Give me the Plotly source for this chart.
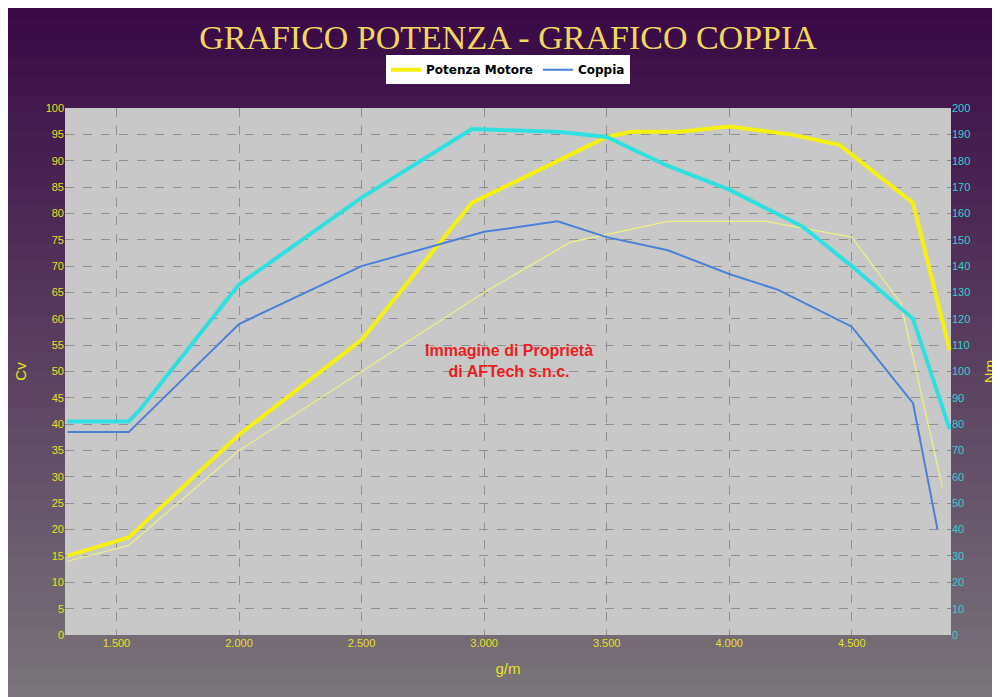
import plotly.graph_objects as go

rpm_pot = [1300, 1550, 2000, 2500, 2950, 3500, 3600, 3800, 4000, 4250, 4450, 4750, 4900]
pot_mod = [15, 18.5, 38, 56, 82, 94.5, 95.5, 95.5, 96.5, 95, 93, 82, 54]
rpm_pot_st = [1300, 1550, 2000, 2500, 3000, 3350, 3750, 4150, 4500, 4700, 4870]
pot_stock = [14, 17, 35, 50, 65, 74.5, 78.5, 78.5, 75.5, 63, 28]
rpm_cop = [1300, 1550, 1600, 2000, 2500, 2950, 3300, 3500, 3750, 4000, 4300, 4500, 4750, 4900]
cop_mod = [81, 81, 86, 133, 166, 192, 191, 189, 178, 169, 155, 140, 120, 78]
rpm_cop_st = [1300, 1550, 2000, 2500, 3000, 3300, 3500, 3750, 4000, 4200, 4500, 4750, 4850]
cop_stock = [77, 77, 118, 140, 153, 157, 151, 146, 137, 131, 117, 88, 40]

x_ticks = [1500, 2000, 2500, 3000, 3500, 4000, 4500]
x_labels = ["1.500", "2.000", "2.500", "3.000", "3.500", "4.000", "4.500"]

fig = go.Figure()
fig.add_trace(go.Scatter(x=rpm_pot_st, y=pot_stock, mode="lines", line=dict(color="#f0f080", width=1.2), showlegend=False))
fig.add_trace(go.Scatter(x=rpm_pot, y=pot_mod, mode="lines", name="Potenza Motore", line=dict(color="#f5f010", width=4)))
fig.add_trace(go.Scatter(x=rpm_cop_st, y=cop_stock, mode="lines", name="Coppia", yaxis="y2", line=dict(color="#4a80d8", width=2)))
fig.add_trace(go.Scatter(x=rpm_cop, y=cop_mod, mode="lines", yaxis="y2", line=dict(color="#30e0e0", width=4), showlegend=False))

# gradient background: purple top to gray bottom (stripes overlap to hide seams)
shapes = []
n = 40
c0, c1 = (58, 10, 70), (125, 122, 125)
for i in range(n):
    t = i / (n - 1)
    c = tuple(int(c0[k] + (c1[k] - c0[k]) * t) for k in range(3))
    shapes.append(dict(type="rect", xref="paper", yref="paper", layer="below",
                       x0=-0.1, x1=1.1, y0=1.2 - (i + 1.6) * 1.4 / n, y1=1.2 - i * 1.4 / n,
                       fillcolor="rgb(%d,%d,%d)" % c, line=dict(width=0)))
shapes.append(dict(type="rect", xref="x domain", yref="y domain", layer="below",
                   x0=0, x1=1, y0=0, y1=1, fillcolor="#c8c8c8", line=dict(width=0)))

grid = dict(showgrid=True, gridcolor="#909090", griddash="dash", gridwidth=1)
fig.update_layout(
    width=1000, height=697,
    margin=dict(l=55, r=55, t=100, b=70),
    paper_bgcolor="#5a3a68", plot_bgcolor="#c8c8c8",
    shapes=shapes,
    font=dict(family="Liberation Sans", color="#e8e020", size=11),
    title=dict(text="GRAFICO POTENZA - GRAFICO COPPIA", x=0.5, y=0.975, xanchor="center",
               font=dict(family="Liberation Serif", size=34, color="#f0d860")),
    legend=dict(orientation="h", x=0.5, y=1.045, xanchor="center", yanchor="bottom", bgcolor="white",
                font=dict(family="DejaVu Sans", size=12, color="black", weight="bold"),
                borderwidth=0),
    xaxis=dict(range=[1290, 4905], tickvals=x_ticks, ticktext=x_labels, title=dict(text="g/m", font=dict(color="#e8e020", size=15)),
               zeroline=False, **grid),
    yaxis=dict(range=[0, 100], dtick=5, title=dict(text="Cv", font=dict(color="#e8e020", size=15)),
               zeroline=False, **grid),
    yaxis2=dict(range=[0, 200], dtick=10, overlaying="y", side="right", showgrid=False, zeroline=False,
                tickfont=dict(color="#30d0d0"), title=dict(text="Nm", font=dict(color="#e8e020", size=15))),
    annotations=[dict(text="<b>Immagine di Proprietà<br>di AFTech s.n.c.</b>", x=3100, y=52, xref="x", yref="y",
                      showarrow=False, font=dict(color="#e82020", size=16, family="Liberation Sans"))],
)
fig.write_html("out.html")
